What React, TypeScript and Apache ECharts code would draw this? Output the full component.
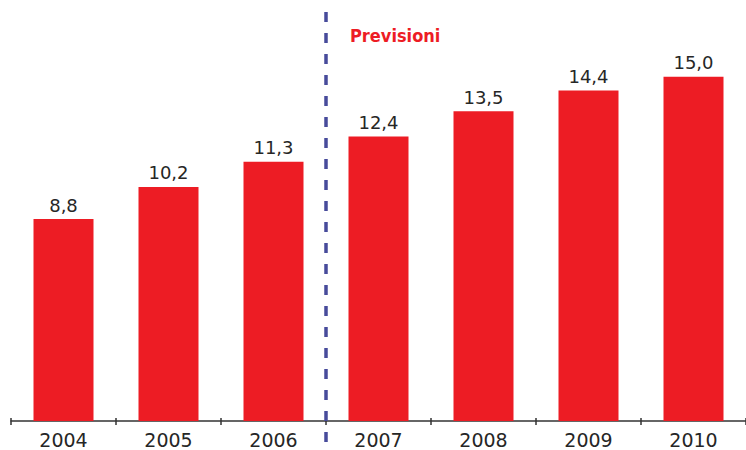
import React, { useEffect, useRef } from "react";
import * as echarts from "echarts";

const years = ["2004", "2005", "2006", "2007", "2008", "2009", "2010"];
const values = [8.8, 10.2, 11.3, 12.4, 13.5, 14.4, 15.0];
const forecastLabel = "Previsioni";
const forecastStartIndex = 3;

export default function App() {
  const ref = useRef<HTMLDivElement>(null);
  useEffect(() => {
    if (!ref.current) return;
    const chart = echarts.init(ref.current, undefined, { renderer: "svg" });
    const textColor = "#262626";
    chart.setOption({
      animation: false,
      backgroundColor: "#ffffff",
      grid: { left: 11, right: 0, top: 8, bottom: 29, containLabel: false },
      xAxis: [
        {
          type: "category",
          data: years,
          axisLine: { show: true, lineStyle: { color: "#333333", width: 1.5 } },
          axisTick: { show: true, length: 4, lineStyle: { color: "#333333", width: 1.5 } },
          axisLabel: {
            color: textColor,
            fontFamily: "DejaVu Sans",
            fontSize: 19,
            margin: 9,
          },
        },
        {
          type: "category",
          data: years,
          position: "bottom",
          axisLine: { show: false },
          axisTick: { show: true, inside: true, length: 3, lineStyle: { color: "#333333", width: 1.5 } },
          axisLabel: { show: false },
        },
      ],
      yAxis: {
        type: "value",
        min: 0,
        max: 18,
        show: false,
        splitLine: { show: false },
      },
      series: [
        {
          type: "bar",
          data: values,
          barWidth: 60,
          itemStyle: { color: "#ED1C24" },
          label: {
            show: true,
            position: "top",
            distance: 5,
            color: textColor,
            fontFamily: "DejaVu Sans",
            fontSize: 18,
            formatter: (p: any) => p.value.toFixed(1).replace(".", ","),
          },
        },
      ],
    });
    const a = chart.convertToPixel({ xAxisIndex: 0 }, years[forecastStartIndex - 1]) as number;
    const b = chart.convertToPixel({ xAxisIndex: 0 }, years[forecastStartIndex]) as number;
    const xLine = (a + b) / 2;
    chart.setOption({
      graphic: [
        {
          type: "line",
          shape: { x1: xLine, y1: 12, x2: xLine, y2: 452 },
          style: { stroke: "#474B9B", lineWidth: 3.5, lineDash: [10, 11] },
          z: 10,
        },
        {
          type: "text",
          x: xLine + 24,
          y: 35,
          style: {
            text: forecastLabel,
            fill: "#ED1C24",
            fontFamily: "DejaVu Sans Condensed, DejaVu Sans",
            fontWeight: "bold",
            fontSize: 18,
            verticalAlign: "middle",
            align: "left",
          },
        },
      ],
    });
    return () => chart.dispose();
  }, []);
  return (
    <div
      ref={ref}
      style={{ position: "fixed", left: 0, top: 0, width: 746, height: 450 }}
    />
  );
}
